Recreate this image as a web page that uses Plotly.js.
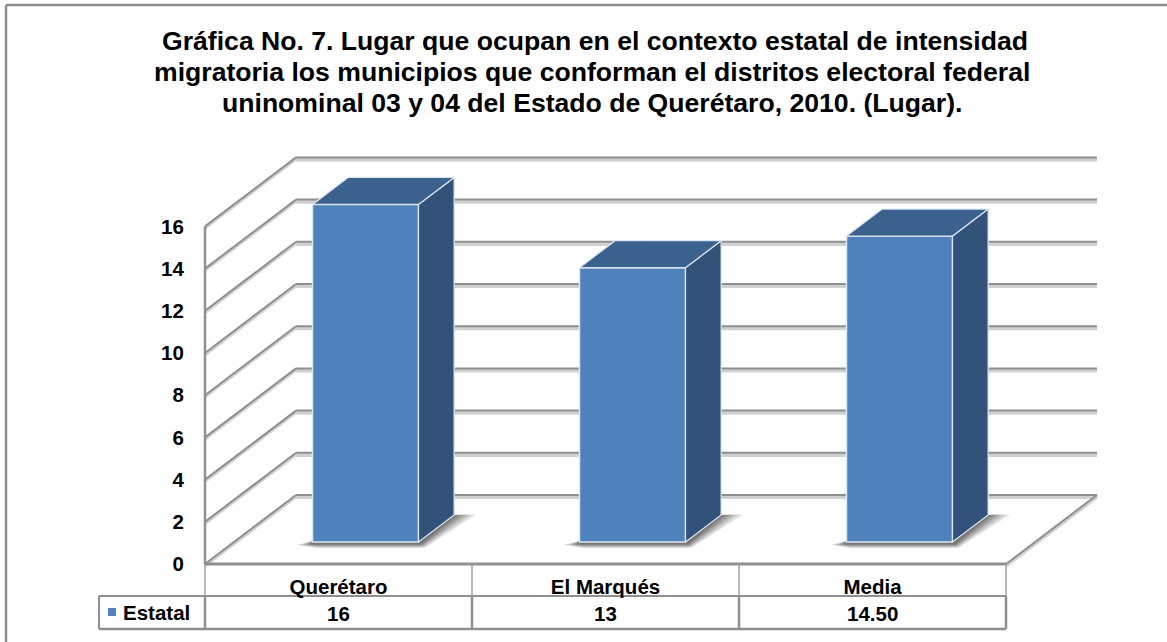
<!DOCTYPE html>
<html><head><meta charset="utf-8">
<script src="https://cdn.plot.ly/plotly-3.0.1.min.js"></script>
<style>html,body{margin:0;padding:0;background:#fff}#c{width:1167px;height:642px}</style>
</head><body><div id="c"></div>
<script>
// ---- data ----
const categories = ['Querétaro', 'El Marqués', 'Media'];
const seriesName = 'Estatal';
const values = [16, 13, 14.5];
const valueLabels = ['16', '13', '14.50'];
const yTicks = [0, 2, 4, 6, 8, 10, 12, 14, 16];
const titleLines = [
  'Gráfica No. 7. Lugar que ocupan en el contexto estatal de intensidad',
  'migratoria los municipios que conforman el distritos electoral federal',
  'uninominal 03 y 04 del Estado de Querétaro, 2010. (Lugar).'
];

// ---- projection of the oblique 3D frame onto the axes ----
const W = 1167, H = 642, pxX = 267, pxY = 21.1, x0px = 205, y0px = 564;
const X = p => (p - x0px) / pxX - 0.5;          // px -> x units
const Y = p => (y0px - p) / pxY;                // px -> y units
const DX = 91 / pxX, DY = 69 / pxY;             // full depth of the box
const pr = (c, v, d) => [c + d * DX, v + d * DY]; // category coord, value, depth 0..1
const barFront = 22 / 69, barDepth = 27 / 69, barW = 106 / pxX, barShift = -2 / pxX;
const grey = '#8f8f8f', navySide = '#325279', navyTop = '#3b618f', blue = '#4f81bd', edge = '#dce6f2';

const line = (a, b, color, width) => ({type: 'line', xref: 'x', yref: 'y', layer: 'below',
  x0: a[0], y0: a[1], x1: b[0], y1: b[1], line: {color, width}});
const shapes = [];
const left = -0.5, right = 2.5;

// walls: gridlines (soft shadow + core)
yTicks.forEach(v => {
  const a = pr(left, v, 0), b = pr(left, v, 1), c = pr(right, v, 1);
  shapes.push(line([a[0], a[1] - 0.08], [b[0], b[1] - 0.08], '#d0d0d0', 3));
  shapes.push(line([b[0], b[1] - 0.1], [c[0], c[1] - 0.1], '#d0d0d0', 4));
  shapes.push(line(a, b, grey, 2));
  shapes.push(line(b, c, grey, 2));
});
// left wall vertical and floor's right edge
shapes.push(line(pr(left, 0, 0), pr(left, 16, 0), grey, 2.5));
shapes.push(line([pr(right, 0, 0)[0], -0.1], [pr(right, 0, 1)[0], pr(right, 0, 1)[1] - 0.1], '#d0d0d0', 3));
shapes.push(line(pr(right, 0, 0), pr(right, 0, 1), grey, 2));

// data table
const yRow1 = Y(596), yRow2 = Y(629), xLeg = X(99);
shapes.push(line([left, 0], [right, 0], grey, 3));
shapes.push(line([xLeg, yRow1], [right, yRow1], grey, 2));
shapes.push(line([xLeg, yRow2], [right, yRow2], grey, 2.5));
shapes.push(line([xLeg, yRow1], [xLeg, yRow2], grey, 2));
[left, 0.5, 1.5, right].forEach(x => {
  shapes.push(line([x, 0], [x, yRow1], '#a0a0a0', 1.5));
  shapes.push(line([x, yRow1], [x, yRow2], grey, 2.5));
});

// outer chart border (only left and top lie inside the picture)
shapes.push(line([X(6), Y(5)], [X(W + 2), Y(5)], grey, 2.5));
shapes.push(line([X(6), Y(5)], [X(6), Y(H + 2)], grey, 2.5));

// soft shadows under each bar
const xs = categories.map((c, i) => i + barFront * DX + barShift);
const shadowPath = (i, g) => {
  const base = barFront * DY;
  const L = xs[i] - barW / 2, R = xs[i] + barW / 2, bd = barDepth;
  const px = n => n / pxX, py = n => n / pxY;
  const pts = [
    [L - px(g * 1.1), base - py(2.5 + g * 0.02)],
    [L, base + py(1)],
    [R, base + py(1)],
    [R + bd * DX, base + bd * DY],
    [R + bd * DX + px(g * 1.5), base + bd * DY + py(0.5)],
    [R + px(2 + g * 0.3), base - py(2 + g * 0.25)],
    [R, base - py(2 + g * 0.28)],
    [L + px(4), base - py(2 + g * 0.28)]
  ];
  return 'M' + pts.map(p => p[0] + ',' + p[1]).join('L') + 'Z';
};
values.forEach((v, i) => {
  [15, 13, 11, 9, 7.5, 6, 4.5, 3, 2, 1].forEach(g => shapes.push({type: 'path', xref: 'x', yref: 'y', layer: 'below',
    path: shadowPath(i, g), fillcolor: 'rgba(50,50,50,0.1)', line: {width: 0}}));
});

// ---- traces ----
const traces = [{
  type: 'bar', name: seriesName, x: xs, y: values, base: barFront * DY, width: barW,
  marker: {color: blue, line: {color: edge, width: 1.5}}, showlegend: false, hoverinfo: 'y'
}];
const face = (pts, color) => ({
  type: 'scatter', mode: 'lines', x: pts.map(p => p[0]), y: pts.map(p => p[1]),
  fill: 'toself', fillcolor: color, line: {color: edge, width: 1.2}, showlegend: false, hoverinfo: 'skip', cliponaxis: false
});
values.forEach((v, i) => {
  const L = xs[i] - barW / 2, R = xs[i] + barW / 2, b = barFront * DY, t = b + v, bd = barDepth;
  traces.push(face([[R, b], [R, t], [R + bd * DX, t + bd * DY], [R + bd * DX, b + bd * DY], [R, b]], navySide));
  traces.push(face([[L, t], [R, t], [R + bd * DX, t + bd * DY], [L + bd * DX, t + bd * DY], [L, t]], navyTop));
});
// legend key in the table
traces.push({type: 'scatter', mode: 'markers', x: [X(112)], y: [Y(612)], showlegend: false, hoverinfo: 'skip',
  marker: {symbol: 'square', size: 8, color: blue}});

const F = (size) => ({family: '"Liberation Sans", Arial, sans-serif', size, color: '#000', weight: 700});
const annotations = valueLabels.map((t, i) => ({
  x: i, y: Y(613), xref: 'x', yref: 'y', text: t, showarrow: false, font: F(20.5), xanchor: 'center', yanchor: 'middle'
}));
annotations.push({x: X(121), y: Y(612), xref: 'x', yref: 'y', text: seriesName, showarrow: false, font: F(20.5), xanchor: 'left', yanchor: 'middle'});
titleLines.slice(1).forEach((t, i) => annotations.push({
  x: X(592), y: Y(72 + i * 30.5), xref: 'x', yref: 'y', text: t, showarrow: false, font: F(26.6), xanchor: 'center', yanchor: 'middle'
}));

const layout = {
  width: W, height: H, margin: {l: 0, r: 0, t: 0, b: 0}, paper_bgcolor: '#fff', plot_bgcolor: '#fff',
  showlegend: false, bargap: 0,
  title: {text: titleLines[0], font: F(26.6), x: 595 / W, xanchor: 'center', y: 1 - 41 / H, yanchor: 'middle'},
  xaxis: {range: [X(0), X(W)], domain: [0, 1], anchor: 'free', position: (H - y0px) / H,
    tickmode: 'array', tickvals: [0, 1, 2], ticktext: categories, tickfont: F(20.5), zeroline: false,
    showgrid: false, showline: false, ticks: 'outside', ticklen: 4, tickcolor: 'rgba(0,0,0,0)', fixedrange: true},
  yaxis: {range: [Y(H), Y(0)], domain: [0, 1], anchor: 'free', position: x0px / W,
    tickmode: 'array', tickvals: yTicks, tickfont: F(20.5), zeroline: false,
    showgrid: false, showline: false, ticks: 'outside', ticklen: 17, tickcolor: 'rgba(0,0,0,0)', fixedrange: true},
  shapes, annotations
};
Plotly.newPlot('c', traces, layout, {displayModeBar: false, staticPlot: true});
</script></body></html>
